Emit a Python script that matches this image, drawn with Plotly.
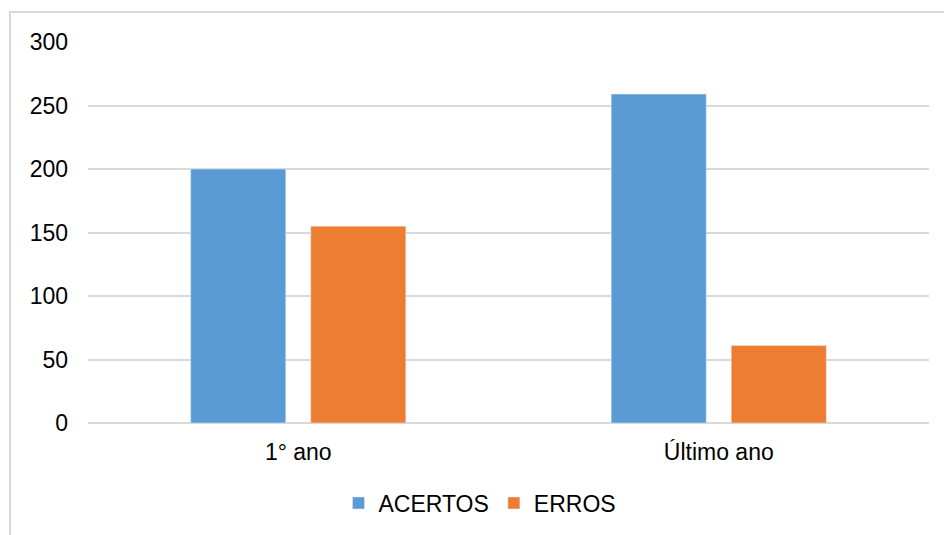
import plotly.graph_objects as go

categories = ["1° ano", "Último ano"]
acertos = [200, 259]
erros = [155, 61]
y_ticks = [0, 50, 100, 150, 200, 250, 300]

W, H = 944, 535
L, R, T, B = 88, 15, 42, 111
pw, ph = W - L - R, H - T - B

def px_to_paper_x(px):
    return (px - L) / pw

def px_to_paper_y(py):
    return (H - B - py) / ph

fig = go.Figure()
fig.add_trace(go.Bar(name="ACERTOS", x=categories, y=acertos, marker_color="#5B9BD5"))
fig.add_trace(go.Bar(name="ERROS", x=categories, y=erros, marker_color="#ED7D31"))

font_family = "Liberation Sans, Arial, sans-serif"
FS = 23

fig.update_layout(
    width=W, height=H,
    margin=dict(l=L, r=R, t=T, b=B, pad=0),
    paper_bgcolor="white", plot_bgcolor="white",
    barmode="group", bargap=0.429, bargroupgap=0.208,
    font=dict(family=font_family, size=FS, color="#000000"),
    showlegend=True,
    legend=dict(orientation="h", x=px_to_paper_x(480), xanchor="center",
                y=px_to_paper_y(503), yanchor="middle",
                font=dict(size=FS, color="#000000"),
                itemwidth=30, tracegroupgap=0, bgcolor="rgba(0,0,0,0)"),
    xaxis=dict(showgrid=False, showline=False, zeroline=False, ticks="",
               tickfont=dict(size=FS, color="#000000"), ticklabelstandoff=13),
    yaxis=dict(range=[0, 300], tickvals=y_ticks, showgrid=True,
               gridcolor="#d9d9d9", gridwidth=1.5, zeroline=True,
               zerolinecolor="#d9d9d9", zerolinewidth=1.5, showline=False,
               ticks="", tickfont=dict(size=FS, color="#000000"),
               ticklabelstandoff=19),
)

fig.add_shape(type="rect", xref="paper", yref="paper",
              x0=px_to_paper_x(10), x1=px_to_paper_x(960),
              y0=px_to_paper_y(560), y1=px_to_paper_y(12),
              line=dict(color="#d9d9d9", width=2), fillcolor="rgba(0,0,0,0)",
              layer="below")

fig.write_html("out.html")
